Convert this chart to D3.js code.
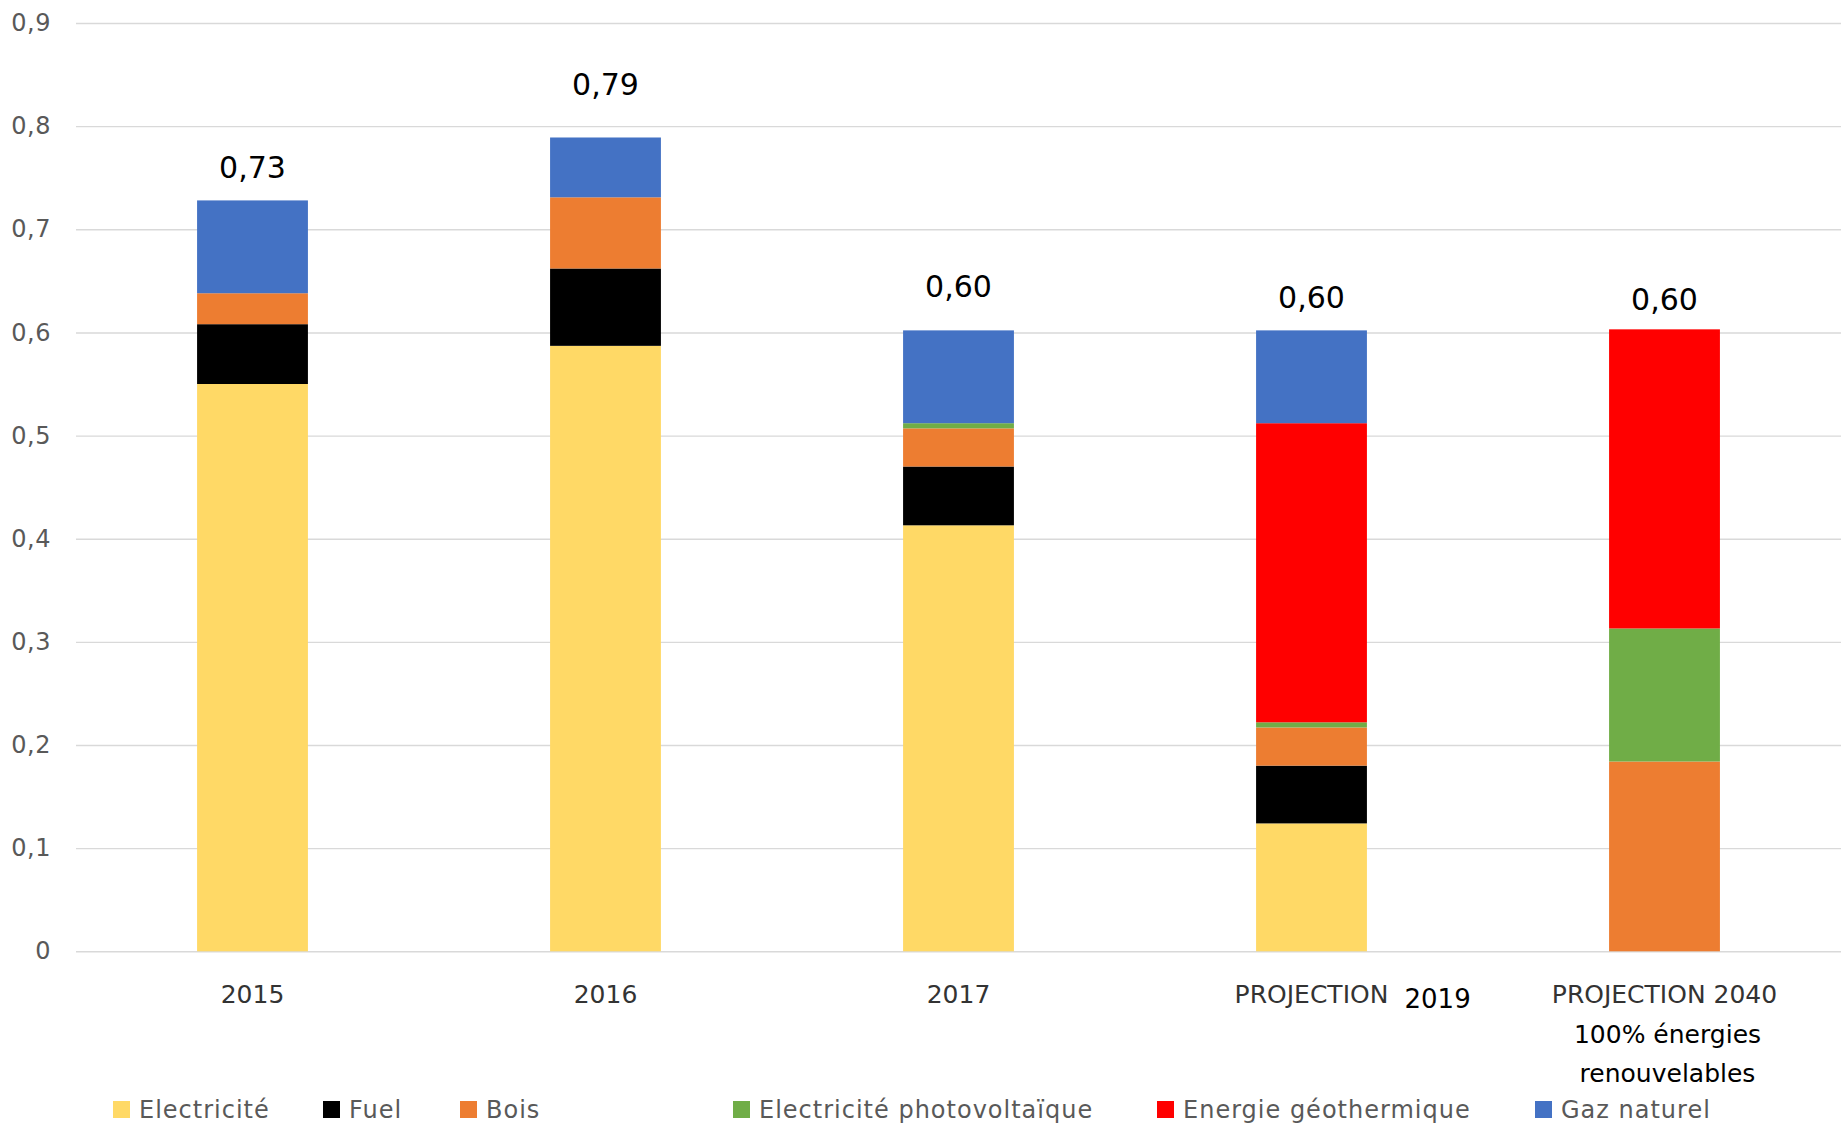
<!DOCTYPE html>
<html>
<head>
<meta charset="utf-8">
<script src="https://cdn.jsdelivr.net/npm/d3@7"></script>
<style>
  body { margin: 0; background: #fff; }
  svg { display: block; font-family: "DejaVu Sans", sans-serif; }
</style>
</head>
<body>
<div id="chart"></div>
<script>
// categories and series values
var categories = ["2015", "2016", "2017", "PROJECTION", "PROJECTION 2040"];
var seriesNames = ["Electricité", "Fuel", "Bois", "Electricité photovoltaïque", "Energie géothermique", "Gaz naturel"];
var electricite = [0.550, 0.587, 0.413, 0.124, 0];
var fuel        = [0.058, 0.075, 0.057, 0.056, 0];
var bois        = [0.030, 0.069, 0.037, 0.037, 0.184];
var photovolt   = [0, 0, 0.005, 0.005, 0.129];
var geothermie  = [0, 0, 0, 0.290, 0.290];
var gazNaturel  = [0.090, 0.058, 0.090, 0.090, 0];
var yTicks = [0, 0.1, 0.2, 0.3, 0.4, 0.5, 0.6, 0.7, 0.8, 0.9];

function StackedChart (params) {
  var attrs = {
    container: "#chart",
    width: 1841,
    height: 1124,
    plot: { left: 76, right: 1841, top: 23, bottom: 951.3 },
    colors: ["#FFD966", "#000000", "#ED7D31", "#70AD47", "#FF0000", "#4472C4"],
    labelLift: [22, 42, 33, 22, 19],       // total labels were nudged by hand in the original
    legendX: [113, 323, 460, 733, 1157, 1535],
    legendY: 1101
  };
  attrs = Object.assign(attrs, params);

  function main () {
    var values = [electricite, fuel, bois, photovolt, geothermie, gazNaturel];
    var rows = categories.map(function (c, i) {
      var r = { cat: c };
      seriesNames.forEach(function (s, k) { r[s] = values[k][i]; });
      return r;
    });

    var svg = d3.select(attrs.container).append("svg")
      .attr("width", attrs.width)
      .attr("height", attrs.height);

    var x = d3.scaleBand()
      .domain(categories)
      .range([attrs.plot.left, attrs.plot.right])
      .paddingInner(0.686)
      .paddingOuter(0.343);

    var y = d3.scaleLinear()
      .domain([0, 0.9])
      .range([attrs.plot.bottom, attrs.plot.top]);

    var comma = function (v) { return v === 0 ? "0" : d3.format(".1f")(v).replace(".", ","); };

    // gridlines + y labels
    var yAxis = svg.append("g")
      .attr("transform", "translate(" + attrs.plot.left + ",0)")
      .call(d3.axisLeft(y).tickValues(yTicks).tickFormat(comma)
        .tickSize(-(attrs.plot.right - attrs.plot.left)).tickPadding(25));
    yAxis.select(".domain").remove();
    yAxis.selectAll(".tick line").attr("stroke", "#D9D9D9").attr("stroke-width", 1.4);
    yAxis.selectAll(".tick text")
      .attr("fill", "#595959")
      .style("font-size", "24px")
      .style("letter-spacing", "0.5px")
      .style("font-family", "DejaVu Sans, sans-serif");

    // bars
    var stack = d3.stack().keys(seriesNames)(rows);
    svg.append("g").selectAll("g")
      .data(stack)
      .join("g")
      .attr("fill", function (d, i) { return attrs.colors[i]; })
      .selectAll("rect")
      .data(function (d) { return d; })
      .join("rect")
      .attr("x", function (d) { return x(d.data.cat); })
      .attr("y", function (d) { return y(d[1]); })
      .attr("width", x.bandwidth())
      .attr("height", function (d) { return y(d[0]) - y(d[1]); });

    // totals on top
    var totals = rows.map(function (r) { return d3.sum(seriesNames, function (s) { return r[s]; }); });
    svg.append("g").selectAll("text")
      .data(totals)
      .join("text")
      .attr("x", function (d, i) { return x(categories[i]) + x.bandwidth() / 2; })
      .attr("y", function (d, i) { return y(d) - attrs.labelLift[i]; })
      .attr("text-anchor", "middle")
      .attr("fill", "#000")
      .style("font-size", "30px")
      .text(function (d) { return d3.format(".2f")(d).replace(".", ","); });

    // category axis
    var xAxis = svg.append("g")
      .attr("transform", "translate(0," + attrs.plot.bottom + ")")
      .call(d3.axisBottom(x).tickSize(0).tickPadding(34));
    xAxis.select(".domain").remove();
    xAxis.selectAll(".tick text")
      .attr("fill", "#333333")
      .style("font-size", "25px")
      .style("font-family", "DejaVu Sans, sans-serif");

    // text boxes added under the projections
    var cx4 = x(categories[3]) + x.bandwidth() / 2;
    var cx5 = x(categories[4]) + x.bandwidth() / 2;
    svg.append("text")
      .attr("x", cx4 + 93).attr("y", 1008)
      .attr("fill", "#000").style("font-size", "26px")
      .text("2019");
    svg.append("text")
      .attr("x", cx5 + 3).attr("y", 1043)
      .attr("text-anchor", "middle")
      .attr("fill", "#000").style("font-size", "25px")
      .text("100% énergies");
    svg.append("text")
      .attr("x", cx5 + 3).attr("y", 1082)
      .attr("text-anchor", "middle")
      .attr("fill", "#000").style("font-size", "25px")
      .text("renouvelables");

    // legend
    var legend = svg.append("g").selectAll("g")
      .data(seriesNames)
      .join("g")
      .attr("transform", function (d, i) { return "translate(" + attrs.legendX[i] + "," + attrs.legendY + ")"; });
    legend.append("rect")
      .attr("width", 17).attr("height", 17)
      .attr("fill", function (d, i) { return attrs.colors[i]; });
    legend.append("text")
      .attr("x", 26).attr("y", 17)
      .attr("fill", "#595959")
      .style("font-size", "24px")
      .style("letter-spacing", "1px")
      .text(function (d) { return d; });
  }

  main.render = function () {
    main();
    return main;
  };
  return main;
}

StackedChart().render();
</script>
</body>
</html>
